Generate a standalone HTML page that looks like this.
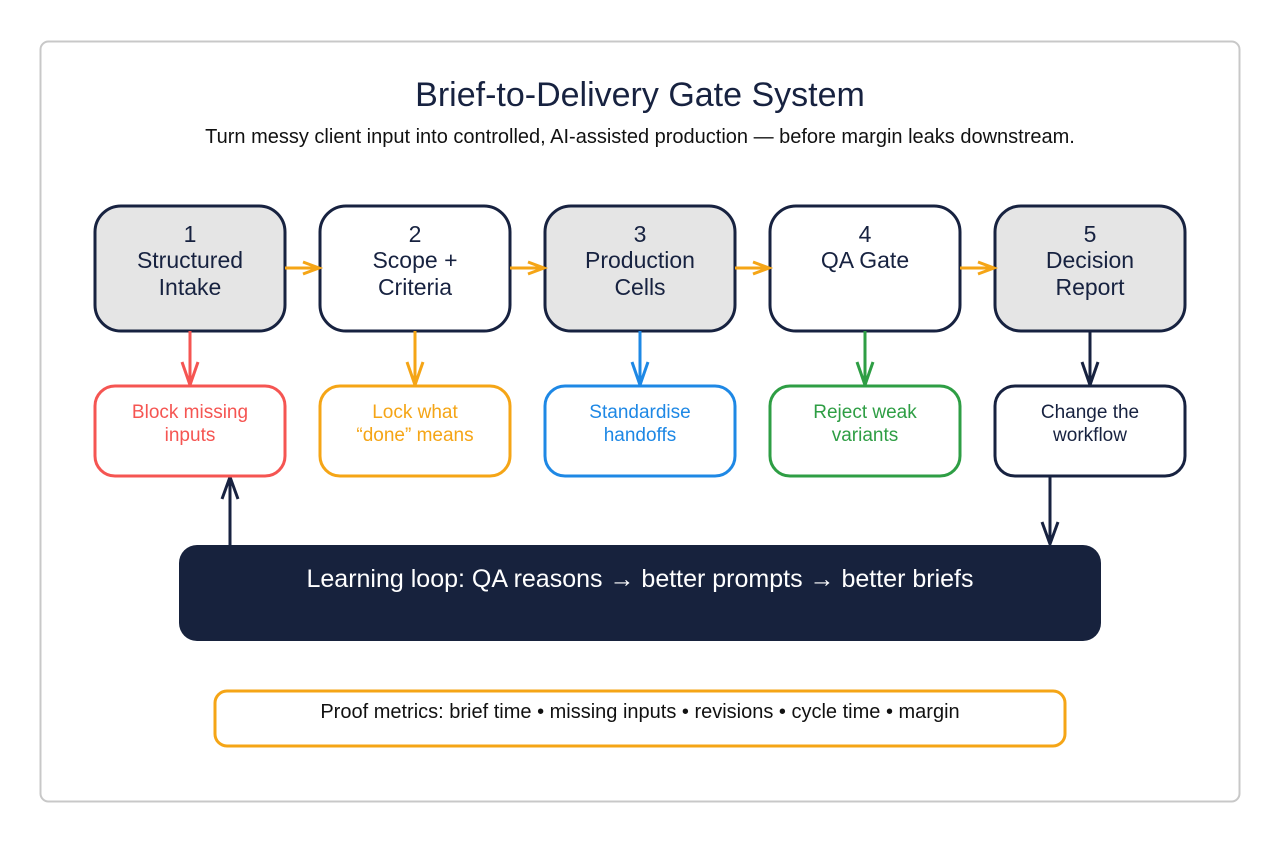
<!DOCTYPE html>
<html><head><meta charset="utf-8"><style>html,body{margin:0;padding:0;background:#fff}svg{display:block}text{font-family:"Liberation Sans",sans-serif}</style></head><body>
<svg width="1280" height="842" viewBox="0 0 1280 842" xmlns="http://www.w3.org/2000/svg">
<rect x="40.5" y="41.5" width="1199" height="760" rx="8" fill="#fff" stroke="#c8c8c8" stroke-width="2"/>
<text x="640" y="106" text-anchor="middle" font-size="34" fill="#172240">Brief-to-Delivery Gate System</text>
<text x="640" y="143" text-anchor="middle" font-size="20" fill="#111">Turn messy client input into controlled, AI-assisted production — before margin leaks downstream.</text>
<g stroke="#172240" stroke-width="3">
<rect x="95" y="206" width="190" height="125" rx="26" fill="#e5e5e5"/>
<rect x="320" y="206" width="190" height="125" rx="26" fill="#fff"/>
<rect x="545" y="206" width="190" height="125" rx="26" fill="#e5e5e5"/>
<rect x="770" y="206" width="190" height="125" rx="26" fill="#fff"/>
<rect x="995" y="206" width="190" height="125" rx="26" fill="#e5e5e5"/>
</g>
<g font-size="23" fill="#172240" text-anchor="middle">
<text x="190" y="242">1</text><text x="190" y="268">Structured</text><text x="190" y="295">Intake</text>
<text x="415" y="242">2</text><text x="415" y="268">Scope +</text><text x="415" y="295">Criteria</text>
<text x="640" y="242">3</text><text x="640" y="268">Production</text><text x="640" y="295">Cells</text>
<text x="865" y="242">4</text><text x="865" y="268">QA Gate</text>
<text x="1090" y="242">5</text><text x="1090" y="268">Decision</text><text x="1090" y="295">Report</text>
</g>
<g stroke="#f5a516" stroke-width="3" fill="none">
<path d="M285 268H319M303 262L319 268L303 274"/>
<path d="M510 268H544M528 262L544 268L528 274"/>
<path d="M735 268H769M753 262L769 268L753 274"/>
<path d="M960 268H994M978 262L994 268L978 274"/>
</g>
<g fill="none" stroke-width="3">
<path stroke="#f55552" d="M190 331V385M182 362L190 385L198 362"/>
<path stroke="#f5a516" d="M415 331V385M407 362L415 385L423 362"/>
<path stroke="#1e88e5" d="M640 331V385M632 362L640 385L648 362"/>
<path stroke="#2e9e44" d="M865 331V385M857 362L865 385L873 362"/>
<path stroke="#172240" d="M1090 331V385M1082 362L1090 385L1098 362"/>
<path stroke="#172240" d="M230 545V477M222 499L230 477L238 499"/>
<path stroke="#172240" d="M1050 476V544M1042 522L1050 544L1058 522"/>
</g>
<g fill="#fff" stroke-width="3">
<rect x="95" y="386" width="190" height="90" rx="20" stroke="#f55552"/>
<rect x="320" y="386" width="190" height="90" rx="20" stroke="#f5a516"/>
<rect x="545" y="386" width="190" height="90" rx="20" stroke="#1e88e5"/>
<rect x="770" y="386" width="190" height="90" rx="20" stroke="#2e9e44"/>
<rect x="995" y="386" width="190" height="90" rx="20" stroke="#172240"/>
</g>
<g font-size="19" text-anchor="middle">
<text x="190" y="418" fill="#f55552">Block missing</text><text x="190" y="441" fill="#f55552">inputs</text>
<text x="415" y="418" fill="#f5a516">Lock what</text><text x="415" y="441" fill="#f5a516">“done” means</text>
<text x="640" y="418" fill="#1e88e5">Standardise</text><text x="640" y="441" fill="#1e88e5">handoffs</text>
<text x="865" y="418" fill="#2e9e44">Reject weak</text><text x="865" y="441" fill="#2e9e44">variants</text>
<text x="1090" y="418" fill="#172240">Change the</text><text x="1090" y="441" fill="#172240">workflow</text>
</g>
<rect x="179" y="545" width="922" height="96" rx="18" fill="#17223d"/>
<text x="640" y="587" text-anchor="middle" font-size="25" fill="#fff">Learning loop: QA reasons → better prompts → better briefs</text>
<rect x="215" y="691" width="850" height="55" rx="12" fill="#fff" stroke="#f5a516" stroke-width="3"/>
<text x="640" y="718" text-anchor="middle" font-size="20" fill="#111">Proof metrics: brief time • missing inputs • revisions • cycle time • margin</text>
</svg>
</body></html>
